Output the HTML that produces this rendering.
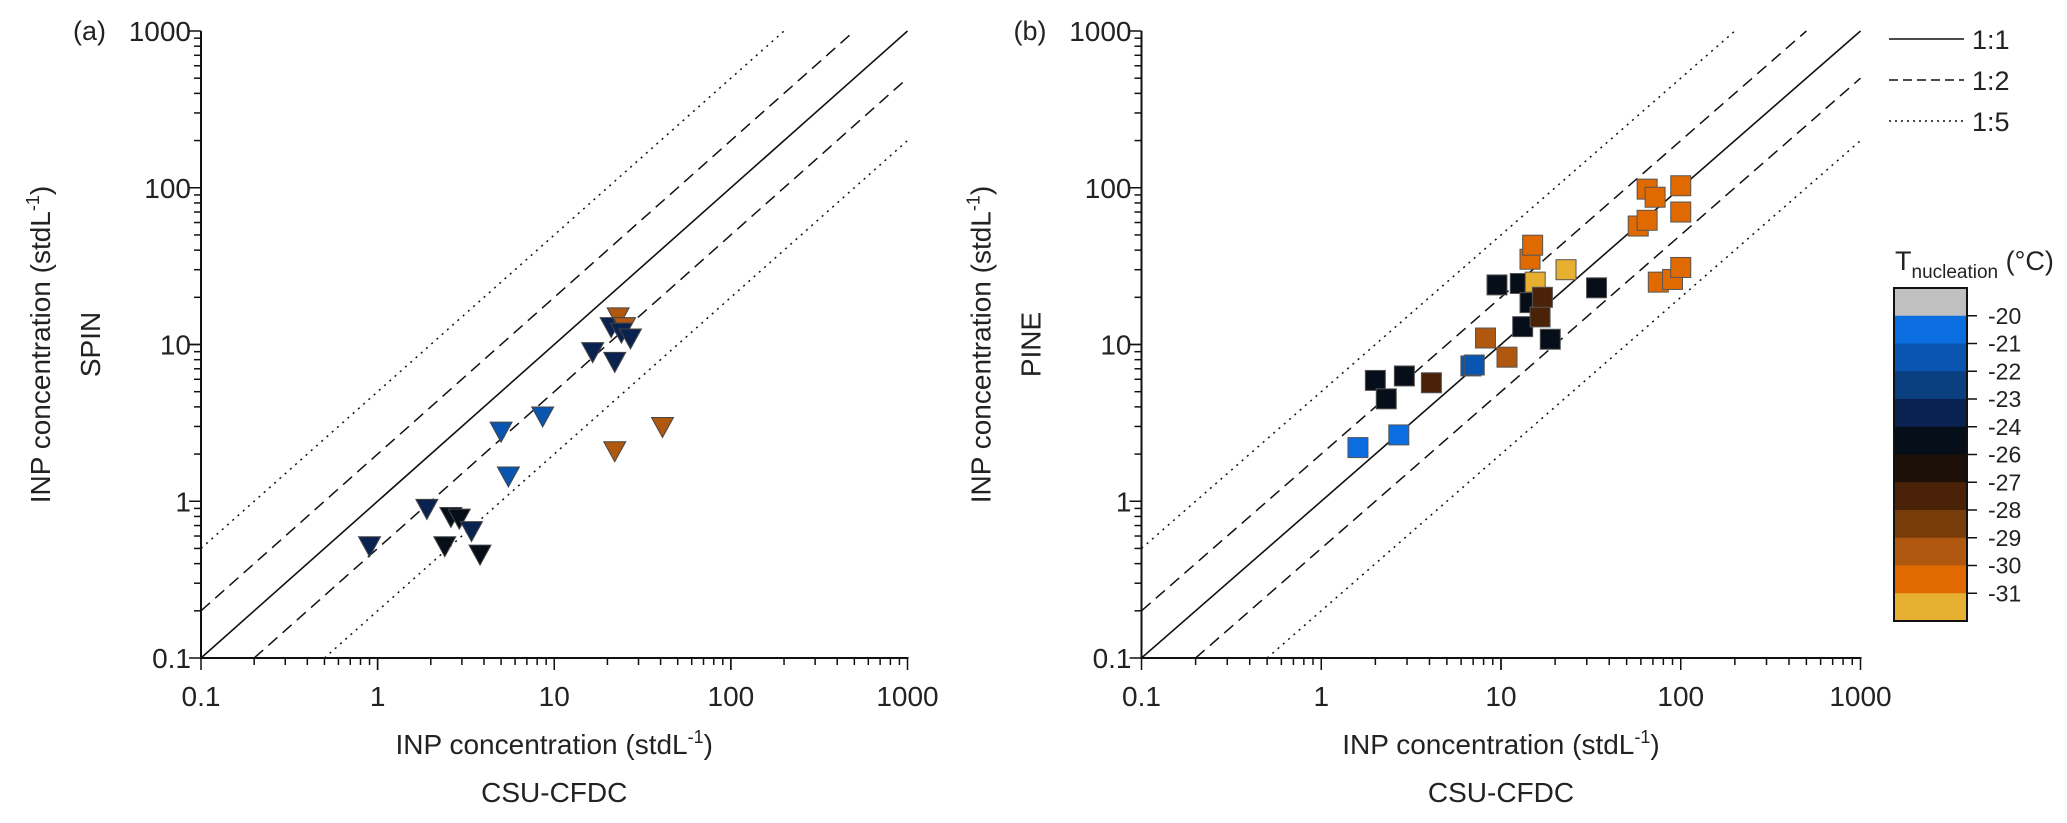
<!DOCTYPE html>
<html><head><meta charset="utf-8"><style>
html,body{margin:0;padding:0;background:#fff;}
svg text{font-family:"Liberation Sans",sans-serif;fill:#222;}
</style></head><body>
<svg id="fig" width="2067" height="818" viewBox="0 0 2067 818" xmlns="http://www.w3.org/2000/svg"></svg>
<script>
const ticks=[0.1,1,10,100,1000];
const tickLabels=["0.1","1","10","100","1000"];
const aX=[0.9,1.9,2.4,2.6,2.9,3.4,3.8,5,5.5,8.6,16.5,21,22,23,25,24,27,22,41];
const aY=[0.52,0.9,0.52,0.8,0.78,0.65,0.46,2.8,1.45,3.5,9,13,7.8,15,13,12,11,2.1,3];
const aT=[-23,-23,-24,-24,-24,-23,-24,-21,-21,-21,-23,-23,-23,-29,-29,-23,-23,-29,-29];
const bX=[1.6,2.7,2,2.3,2.9,4.1,6.8,7.1,8.2,9.5,10.8,12.8,13.2,14.5,14.5,15,15.5,16.5,17,18.8,23,34,58,65,65,72,75,90,100,100,100];
const bY=[2.2,2.65,5.9,4.5,6.3,5.7,7.3,7.4,11,24,8.3,24.5,13,18.5,35,43,25,15,20,10.8,30,23,57,98,62,87,25,26,103,70,31];
const bT=[-20,-20,-24,-24,-24,-27,-21,-21,-29,-24,-29,-24,-24,-24,-30,-30,-31,-27,-27,-24,-31,-24,-30,-30,-30,-30,-30,-30,-30,-30,-30];
const cbLabels=["-20","-21","-22","-23","-24","-26","-27","-28","-29","-30","-31"];
const cbColors=["#c0c0c0","#0a6ee0","#0a55b0","#0a3f80","#0a2250","#060e1a","#1c1008","#4a2208","#783c0a","#b05810","#e06a00","#e8b030"];

const svg=document.getElementById('fig');
const NS='http://www.w3.org/2000/svg';
function mk(tag,at,parent){const e=document.createElementNS(NS,tag);for(const k in at)e.setAttribute(k,at[k]);(parent||svg).appendChild(e);return e;}
function colorOf(t){const i=cbLabels.indexOf(String(t));return cbColors[i+1];}

function panel(x0,x1,id,xs,ys,ts,shape,yName,tag){
  const y0=658,y1=31;
  const sx=v=>x0+(Math.log10(v)+1)/4*(x1-x0);
  const sy=v=>y0-(Math.log10(v)+1)/4*(y0-y1);
  const g=mk('g',{});
  
  
  const refs=[[1,'none'],[2,'12,7'],[0.5,'12,7'],[5,'2,5'],[0.2,'2,5']];
  refs.forEach(([f,d])=>{
    let xa=0.1,xb=1000;
    if(f>1){xb=1000/f;} else {xa=0.1/f;}
    const l=mk('line',{x1:sx(xa),y1:sy(xa*f),x2:sx(xb),y2:sy(xb*f),stroke:'#111','stroke-width':f==1?1.6:1.5,'stroke-dasharray':d},g);
    
    
  });
  mk('line',{x1:x0,y1:y0,x2:x1+1,y2:y0,stroke:'#111','stroke-width':2},g);
  mk('line',{x1:x0,y1:y0+1,x2:x0,y2:y1,stroke:'#111','stroke-width':2},g);
  for(let d=0;d<4;d++){for(let m=1;m<=10;m++){
    const v=Math.pow(10,d-1)*m; const major=(m==1||m==10);
    mk('line',{x1:sx(v),y1:y0,x2:sx(v),y2:y0+(major?12:7),stroke:'#111','stroke-width':1.5},g);
    mk('line',{x1:x0,y1:sy(v),x2:x0-(major?12:7),y2:sy(v),stroke:'#111','stroke-width':1.5},g);
  }}
  ticks.forEach((v,i)=>{
    const t=mk('text',{x:sx(v),y:y0+48,'text-anchor':'middle','font-size':28},g);t.textContent=tickLabels[i];
    
    const u=mk('text',{x:x0-10,y:sy(v)+10,'text-anchor':'end','font-size':28},g);u.textContent=tickLabels[i];
    
  });
  const tg=mk('text',{x:x0-128,y:y1+9,'font-size':27},g);tg.textContent=tag;
  
  const xc=(x0+x1)/2;
  const xt=mk('text',{x:xc,y:754,'text-anchor':'middle','font-size':28},g);
  xt.innerHTML='INP concentration (stdL<tspan dy="-11" font-size="18">-1</tspan><tspan dy="11">)</tspan>';
  
  const xs2=mk('text',{x:xc,y:802,'text-anchor':'middle','font-size':28},g);xs2.textContent='CSU-CFDC';
  
  const yc=(y0+y1)/2;
  const yt=mk('text',{x:0,y:0,'text-anchor':'middle','font-size':28,transform:`translate(${x0-151},${yc}) rotate(-90)`},g);
  yt.innerHTML='INP concentration (stdL<tspan dy="-11" font-size="18">-1</tspan><tspan dy="11">)</tspan>';
  
  const ys2=mk('text',{x:0,y:0,'text-anchor':'middle','font-size':28,transform:`translate(${x0-101},${sy(10)}) rotate(-90)`},g);ys2.textContent=yName;
  
  xs.forEach((v,i)=>{
    const px=sx(v),py=sy(ys[i]);let e;
    if(shape=='tri'){e=mk('path',{d:`M${px-11},${py-9} L${px+11},${py-9} L${px},${py+11} Z`,fill:colorOf(ts[i]),stroke:'#444','stroke-width':1},g);}
    else {e=mk('rect',{x:px-10,y:py-10,width:20,height:20,fill:colorOf(ts[i]),stroke:'#555','stroke-width':1},g);}
    
    
  });
}
panel(201,907.5,'a',aX,aY,aT,'tri','SPIN','(a)');
panel(1141.5,1860.5,'b',bX,bY,bT,'sq','PINE','(b)');

const lg=mk('g',{});
[['none','1:1',39],['9,5','1:2',80],['2,4','1:5',121]].forEach(([d,l,y])=>{
  mk('line',{x1:1889,y1:y,x2:1964,y2:y,stroke:'#111','stroke-width':1.6,'stroke-dasharray':d},lg);
  const t=mk('text',{x:1972,y:y+10,'font-size':27},lg);t.textContent=l;
  
});
const cb=mk('g',{});
const cbTop=288,cbBot=621,bh=(cbBot-cbTop)/cbColors.length;
cbColors.forEach((c,i)=>mk('rect',{x:1894,y:cbTop+i*bh,width:73,height:bh+0.5,fill:c},cb));
mk('rect',{x:1894,y:cbTop,width:73,height:cbBot-cbTop,fill:'none',stroke:'#111','stroke-width':2},cb);
cbLabels.forEach((l,i)=>{const y=cbTop+(i+1)*bh;
  mk('line',{x1:1967,y1:y,x2:1977,y2:y,stroke:'#111','stroke-width':1.5},cb);
  const t=mk('text',{x:1988,y:y+8,'font-size':23},cb);t.textContent=l;
  });
const ct=mk('text',{x:1895,y:270,'font-size':27},cb);
ct.innerHTML='T<tspan dy="8" font-size="19">nucleation</tspan><tspan dy="-8"> (°C)</tspan>';

</script>
</body></html>
